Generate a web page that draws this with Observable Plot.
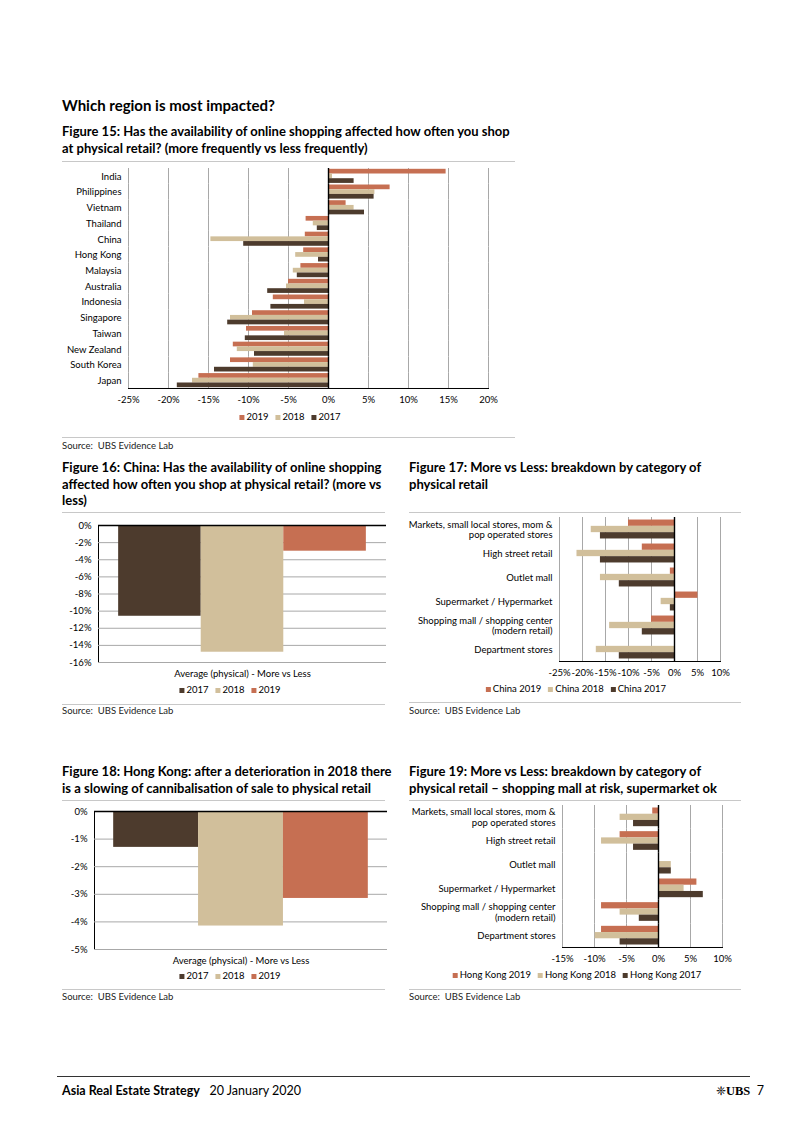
<!DOCTYPE html>
<html><head><meta charset="utf-8">
<script src="https://cdn.jsdelivr.net/npm/d3@7"></script>
<script src="https://cdn.jsdelivr.net/npm/@observablehq/plot@0.6"></script>
<style>
body{margin:0;background:#fff;font-family:Lato,"Noto Sans",sans-serif;color:#000}
#page{position:relative;width:802px;height:1133px;overflow:hidden;background:#fff}
.abs{position:absolute;white-space:nowrap}
.h1{font-weight:700;font-size:15px}
.ft{font-weight:700;font-size:13px;line-height:16.5px}
.rule{position:absolute;height:1px;background:#c8c8c8}
.src{font-size:9.5px;color:#222}
.legend{position:absolute;font-size:9.5px;white-space:nowrap;transform:translateX(-50%);display:flex;gap:7px;align-items:center}
.sw{display:inline-block;width:5px;height:5px;margin-right:2px;vertical-align:middle}
.chart{position:absolute}
.chart svg{display:block}
</style></head>
<body><div id="page"></div>
<script>
// ---------- data ----------
const series = ["2019", "2018", "2017"];
const yearsAsc = ["2017", "2018", "2019"];
const colors = ["#C66F52", "#D1BF9B", "#4D3B2D"]; // 2019, 2018, 2017

const countries = ["India","Philippines","Vietnam","Thailand","China","Hong Kong","Malaysia","Australia","Indonesia","Singapore","Taiwan","New Zealand","South Korea","Japan"];
const asia2019 = [14.7, 7.7, 2.2, -2.8, -2.9, -3.1, -3.45, -5.0, -6.9, -9.5, -10.25, -11.9, -12.25, -16.2];
const asia2018 = [0.5, 5.8, 3.2, -1.9, -14.7, -4.1, -4.4, -5.25, -3.0, -12.25, -5.5, -11.4, -9.4, -17.0];
const asia2017 = [3.2, 5.7, 4.5, -1.4, -10.6, -1.25, -3.9, -7.6, -7.2, -12.6, -10.4, -9.25, -14.25, -18.9];

const avgCategory = "Average (physical) - More vs Less";
const chinaAvg = [-10.6, -14.8, -3.0];   // 2017, 2018, 2019
const hkAvg = [-1.3, -4.15, -3.15];      // 2017, 2018, 2019

const retailCats = ["Markets, small local stores, mom & pop operated stores","High street retail","Outlet mall","Supermarket / Hypermarket","Shopping mall / shopping center (modern retail)","Department stores"];
const retailLabels = ["Markets, small local stores, mom &\npop operated stores","High street retail","Outlet mall","Supermarket / Hypermarket","Shopping mall / shopping center\n(modern retail)","Department stores"];
const china2019 = [-10, -7, -0.9, 5.1, -5, 0];
const china2018 = [-18.1, -21.2, -16.1, -2.9, -14.1, -17];
const china2017 = [-16.1, -16.1, -12, -0.9, -7, -12];
const hk2019 = [-0.9, -6, 0, 6, -8.9, -8.9];
const hk2018 = [-6, -8.9, 2, 4, -6, -9.9];
const hk2017 = [-3.9, -3.9, 2, 7, -3, -6];

const ticks15 = [-25,-20,-15,-10,-5,0,5,10,15,20];
const ticks17 = [-25,-20,-15,-10,-5,0,5,10];
const ticks19 = [-15,-10,-5,0,5,10];
const ticks16 = [0,-2,-4,-6,-8,-10,-12,-14,-16];
const ticks18 = [0,-1,-2,-3,-4,-5];

// ---------- helpers ----------
const page = document.getElementById("page");
function add(html, cls, left, top, extra = "") {
  const d = document.createElement("div");
  d.className = cls; d.style.left = left + "px"; d.style.top = top + "px";
  if (extra) d.style.cssText += extra;
  d.innerHTML = html; page.appendChild(d); return d;
}
function rule(left, top, width, color) {
  const d = document.createElement("div");
  d.className = "rule"; d.style.left = left + "px"; d.style.top = top + "px"; d.style.width = width + "px";
  if (color) d.style.background = color;
  page.appendChild(d);
}
function legend(items, cx, cy) {
  const html = items.map(([lab, col]) => `<span><span class="sw" style="background:${col}"></span>${lab}</span>`).join("");
  add(html, "legend", cx, cy - 7);
}
function place(svg, left, top) {
  const w = document.createElement("div");
  w.className = "chart"; w.style.left = left + "px"; w.style.top = top + "px";
  w.appendChild(svg); page.appendChild(w);
}
const pct = d => d + "%";
const font = {fontFamily: "Lato, 'Noto Sans', sans-serif", fontSize: "9.5px", color: "#000", background: "transparent", overflow: "visible"};

function hbar({cats, labels, vals, ticks, width, height, mL, mR, mT, mB, pad}) {
  const data = cats.flatMap((c, i) => series.map((s, k) => ({cat: c, series: s, value: vals[k][i]})));
  return Plot.plot({
    width, height, marginLeft: mL, marginRight: mR, marginTop: mT, marginBottom: mB,
    style: font,
    x: {domain: [ticks[0], ticks[ticks.length - 1]], ticks, tickFormat: pct, tickSize: 0, tickPadding: 8, label: null, line: true},
    y: {domain: series, axis: null, paddingInner: 0, paddingOuter: pad, round: false},
    fy: {domain: cats, label: null, padding: 0, axis: null, round: false},
    color: {domain: series, range: colors},
    marks: [
      Plot.gridX(ticks, {stroke: "#a8a8a8", strokeOpacity: 1}),
      Plot.barX(data, {x: "value", y: "series", fy: "cat", fill: "series"}),
      Plot.ruleX([0], {stroke: "#000", strokeWidth: 1.4}),
      Plot.axisFy({anchor: "left", label: null, tickSize: 0, tickPadding: 7, lineHeight: 1.12,
                   tickFormat: c => labels[cats.indexOf(c)]})
    ]
  });
}

function vbar({vals, ticks, width, height, mL, mR, mT, mB, pad}) {
  const data = yearsAsc.map((s, i) => ({cat: avgCategory, series: s, value: vals[i]}));
  return Plot.plot({
    width, height, marginLeft: mL, marginRight: mR, marginTop: mT, marginBottom: mB,
    style: font,
    x: {domain: yearsAsc, axis: null, paddingInner: 0, paddingOuter: pad, round: false},
    fx: {domain: [avgCategory], label: null, padding: 0, axis: null, round: false},
    y: {domain: [ticks[ticks.length - 1], 0], ticks, tickFormat: pct, tickSize: 0, tickPadding: 7, label: null, line: true},
    color: {domain: series, range: colors},
    marks: [
      Plot.gridY(ticks, {stroke: "#a8a8a8", strokeOpacity: 1}),
      Plot.barY(data, {fx: "cat", x: "series", y: "value", fill: "series"}),
      Plot.ruleY([0], {stroke: "#000", strokeWidth: 1.4}),
      Plot.axisFx({anchor: "bottom", label: null, tickSize: 0, tickPadding: 8})
    ]
  });
}

// ---------- text ----------
add("Which region is most impacted?", "abs h1", 62, 96);
add("Figure 15: Has the availability of online shopping affected how often you shop<br>at physical retail? (more frequently vs less frequently)", "abs ft", 62, 123);
rule(62, 161, 453);
add("Figure 16: China: Has the availability of online shopping<br>affected how often you shop at physical retail? (more vs<br>less)", "abs ft", 62, 459);
rule(62, 512, 323);
add("Figure 17: More vs Less: breakdown by category of<br>physical retail", "abs ft", 409, 459);
rule(409, 512, 332);
add("Figure 18: Hong Kong: after a deterioration in 2018 there<br>is a slowing of cannibalisation of sale to physical retail", "abs ft", 62, 763);
rule(62, 800, 323);
add("Figure 19: More vs Less: breakdown by category of<br>physical retail – shopping mall at risk, supermarket ok", "abs ft", 409, 763);
rule(409, 800, 332);

// ---------- charts ----------
place(hbar({cats: countries, labels: countries, vals: [asia2019, asia2018, asia2017], ticks: ticks15,
  width: 520, height: 250, mL: 128, mR: 32, mT: 8, mB: 22, pad: 0.17}), 0, 160);
legend(series.map((s, k) => [s, colors[k]]), 290, 418);
rule(62, 437, 453);
add("Source:&nbsp; UBS Evidence Lab", "abs src", 62, 440);

place(vbar({vals: chinaAvg, ticks: ticks16, width: 390, height: 172, mL: 98, mR: 4, mT: 13, mB: 22, pad: 0.244}), 0, 512);
legend(yearsAsc.map(s => [s, colors[series.indexOf(s)]]), 230, 691);
rule(62, 704, 323);
add("Source:&nbsp; UBS Evidence Lab", "abs src", 62, 705);

place(hbar({cats: retailCats, labels: retailLabels, vals: [china2019, china2018, china2017], ticks: ticks17,
  width: 320, height: 172, mL: 154, mR: 5, mT: 5, mB: 23, pad: 0.4}), 405, 512);
legend(series.map((s, k) => ["China " + s, colors[k]]), 576, 690);
rule(409, 702, 332);
add("Source:&nbsp; UBS Evidence Lab", "abs src", 409, 705);

place(vbar({vals: hkAvg, ticks: ticks18, width: 390, height: 172, mL: 94, mR: 3, mT: 11, mB: 23, pad: 0.226}), 0, 800);
legend(yearsAsc.map(s => [s, colors[series.indexOf(s)]]), 230, 977);
rule(62, 989, 323);
add("Source:&nbsp; UBS Evidence Lab", "abs src", 62, 991);

place(hbar({cats: retailCats, labels: retailLabels, vals: [hk2019, hk2018, hk2017], ticks: ticks19,
  width: 320, height: 172, mL: 157, mR: 3, mT: 5, mB: 25, pad: 0.4}), 405, 800);
legend(series.map((s, k) => ["Hong Kong " + s, colors[k]]), 577, 976);
rule(409, 989, 332);
add("Source:&nbsp; UBS Evidence Lab", "abs src", 409, 991);

// ---------- footer ----------
rule(57, 1076, 693, "#333");
add("<b>Asia Real Estate Strategy</b>&nbsp;&nbsp; 20 January 2020", "abs", 62, 1083, "font-size:12.5px;");
add("<span style='font-size:12px'>❈</span><span style=\"font-family:'Liberation Serif',serif;font-weight:700\">UBS</span>&nbsp; 7", "abs", 716, 1083, "font-size:12.5px;");
</script>
</body></html>
